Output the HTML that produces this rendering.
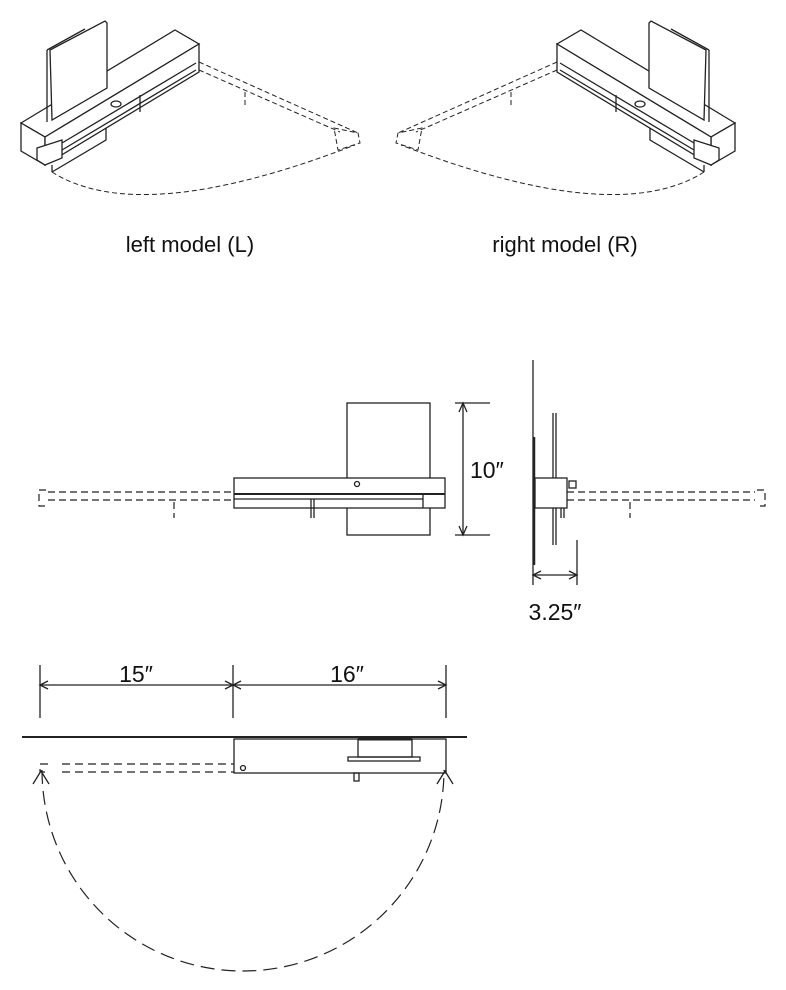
<!DOCTYPE html>
<html><head><style>html,body{margin:0;padding:0;background:#fff}svg{display:block}text{font-family:"Liberation Sans",sans-serif;fill:#111}</style></head>
<body>
<svg width="786" height="990" viewBox="0 0 786 990" xmlns="http://www.w3.org/2000/svg">
<defs>
<g id="iso" fill="none" stroke="#222" stroke-width="1.3">
  <polygon points="21,123 175,30 199,44 45,137" fill="#fff"/>
  <line x1="47" y1="50" x2="47" y2="122"/>
  <line x1="47" y1="50" x2="85" y2="29"/>
  <polygon points="50,50 105,21 107,23 107,88 52,120" fill="#fff"/>
  <polygon points="21,123 45,137 45,165 21,151" fill="#fff"/>
  <polygon points="45,137 199,44 199,72 45,165" fill="#fff"/>
  <line x1="62" y1="143" x2="196" y2="63"/>
  <line x1="62" y1="150" x2="196" y2="70"/>
  <polygon points="37,148 62,140 62,158 45,165 37,160" fill="#fff"/>
  <line x1="52" y1="165" x2="52" y2="172"/>
  <polyline points="52,172 106,140 106,128"/>
  <line x1="140" y1="95" x2="140" y2="112"/>
  <ellipse cx="116" cy="104" rx="5" ry="3"/>
  <g stroke-dasharray="5,3" stroke-width="1">
    <line x1="199" y1="62" x2="358" y2="133"/>
    <line x1="199" y1="70" x2="340" y2="132"/>
    <line x1="245" y1="92" x2="245" y2="108"/>
    <polygon points="334,128 358,133 360,143 338,150"/>
    <path d="M52,172 Q140,228 355,145"/>
  </g>
</g>
</defs>
<use href="#iso"/>
<use href="#iso" transform="translate(756,0) scale(-1,1)"/>
<text x="190" y="252" font-size="22" text-anchor="middle">left model (L)</text>
<text x="565" y="252" font-size="22" text-anchor="middle">right model (R)</text>

<g fill="none" stroke="#222" stroke-width="1.3">
  <rect x="347" y="403" width="83" height="132" fill="#fff"/>
  <rect x="234" y="478" width="211" height="30" fill="#fff"/>
  <line x1="234" y1="494" x2="445" y2="494" stroke-width="2"/>
  <line x1="234" y1="499" x2="423" y2="499"/>
  <line x1="423" y1="494" x2="423" y2="508"/>
  <circle cx="357" cy="484" r="2.5"/>
  <line x1="311" y1="499" x2="311" y2="518"/><line x1="314" y1="499" x2="314" y2="518"/>
  <line x1="455" y1="403" x2="490" y2="403"/><line x1="455" y1="535" x2="490" y2="535"/>
  <line x1="463" y1="403" x2="463" y2="535"/>
  <polyline points="459,412 463,403 467,412"/><polyline points="459,526 463,535 467,526"/>
  <g stroke-dasharray="7,4" stroke-width="1.2">
    <line x1="48" y1="492" x2="234" y2="492"/><line x1="48" y1="500" x2="234" y2="500"/>
    <polyline points="46,490 39,490 39,506 46,506"/>
    <line x1="174" y1="502" x2="174" y2="518"/>
    <line x1="567" y1="492" x2="755" y2="492"/><line x1="567" y1="500" x2="755" y2="500"/>
    <polyline points="757,490 765,490 765,506 757,506"/>
    <line x1="630" y1="502" x2="630" y2="518"/>
  </g>
  <line x1="533" y1="360" x2="533" y2="585"/>
  <line x1="534" y1="437" x2="534" y2="565" stroke-width="2.5"/>
  <line x1="553" y1="413" x2="553" y2="545"/><line x1="556" y1="413" x2="556" y2="545"/>
  <rect x="535" y="478" width="32" height="30" fill="#fff"/>
  <rect x="569" y="481" width="7" height="7"/>
  <line x1="561" y1="508" x2="561" y2="518"/><line x1="564" y1="508" x2="564" y2="518"/>
  <line x1="577" y1="540" x2="577" y2="585"/>
  <line x1="533" y1="575" x2="577" y2="575"/>
  <polyline points="541,571 533,575 541,579"/><polyline points="569,571 577,575 569,579"/>
  <line x1="40" y1="665" x2="40" y2="718"/><line x1="233" y1="665" x2="233" y2="718"/><line x1="446" y1="665" x2="446" y2="718"/>
  <line x1="40" y1="685" x2="446" y2="685"/>
  <polyline points="48,681 40,685 48,689"/><polyline points="225,681 233,685 225,689"/>
  <polyline points="241,681 233,685 241,689"/><polyline points="438,681 446,685 438,689"/>
  <line x1="22" y1="737" x2="467" y2="737" stroke-width="2"/>
  <rect x="234" y="739" width="212" height="34" fill="#fff"/>
  <rect x="358" y="739" width="54" height="18" stroke-width="1.3"/>
  <line x1="358" y1="739" x2="412" y2="739" stroke-width="3"/>
  <rect x="348" y="757" width="72" height="4"/>
  <circle cx="243" cy="768" r="2.5"/>
  <rect x="354" y="773" width="5" height="8"/>
  <g stroke-dasharray="8,5" stroke-width="1.2">
    <line x1="62" y1="764" x2="234" y2="764"/><line x1="62" y1="772" x2="234" y2="772"/>
    <polyline points="48,764 40,764 40,772 48,772"/>
  </g>
  <path d="M42,770 A201,201 0 0,0 444,770" stroke-dasharray="14,7" stroke-width="1.2"/>
  <polyline points="33,784 41,771 49,784"/><polyline points="437,784 445,771 453,784"/>
</g>
<text x="470" y="478" font-size="23">10″</text>
<text x="555" y="620" font-size="23" text-anchor="middle">3.25″</text>
<text x="136" y="682" font-size="23" text-anchor="middle">15″</text>
<text x="347" y="682" font-size="23" text-anchor="middle">16″</text>
</svg>
</body></html>
